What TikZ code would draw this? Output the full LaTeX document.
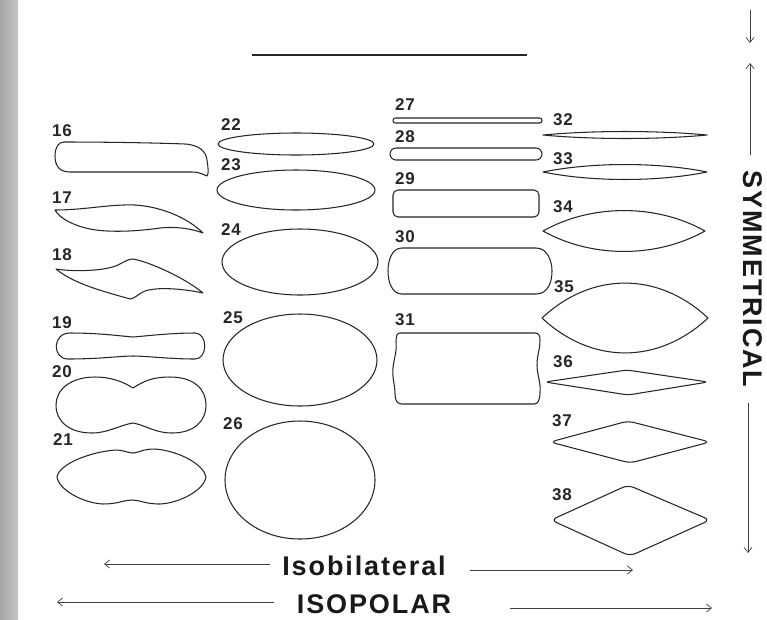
\documentclass[tikz,border=0pt]{standalone}
\usepackage{fontspec}
\usetikzlibrary{arrows.meta}
\newfontfamily\numfont{Liberation Sans}[LetterSpace=4]
\newfontfamily\capfont{Liberation Sans}[LetterSpace=7]

% pointed lens between x=#1 and x=#2, axis at y=#3, half height #4
\newcommand\lensat[4]{%
  \draw[outline] (#1,#3)
    .. controls ({#1+0.3*(#2-#1)},{#3-1.33*#4}) and ({#2-0.3*(#2-#1)},{#3-1.33*#4}) .. (#2,#3)
    .. controls ({#2-0.3*(#2-#1)},{#3+1.33*#4}) and ({#1+0.3*(#2-#1)},{#3+1.33*#4}) .. (#1,#3) -- cycle;}

\begin{document}
\begin{tikzpicture}[x=1pt,y=-1pt,
  outline/.style={draw=black!85, line width=1.05pt, line join=round},
  tag/.style={font=\numfont\bfseries\fontsize{17}{17}\selectfont, text=black!85, inner sep=0pt},
  bigtext/.style={font=\capfont\bfseries\fontsize{27}{27}\selectfont, text=black!90, inner sep=0pt},
  arr/.style={draw=black!75, line width=0.7pt, -{Straight Barb[length=5pt,width=8pt]}}]
\useasboundingbox (0,0) rectangle (767,619);
\fill[white] (0,0) rectangle (767,619);
\shade[left color=gray!70, right color=gray!45] (0,0) rectangle (18,619);

% heavy rule at the top
\coordinate (ruleA) at (252,55);
\coordinate (ruleB) at (527,55);
\draw[line width=2.2pt, black!85] (ruleA) -- (ruleB);

% ---------- column 1 : 16-21 ----------
\node[tag] (l16) at (62,131) {16};
\draw[outline] (64,142) .. controls (110,142) and (160,143) .. (185,144)
  .. controls (200,145) and (206,152) .. (207,160)
  .. controls (208,167) and (209,174) .. (207,176)
  .. controls (204,175) and (200,172) .. (192,172) -- (70,172)
  .. controls (58,172) and (55,164) .. (55,156)
  .. controls (55,148) and (58,142) .. (64,142) -- cycle;

\node[tag] (l17) at (62,198) {17};
\draw[outline] (55,210) .. controls (85,210) and (110,204) .. (135,205)
  .. controls (165,207) and (190,220) .. (203,233)
  .. controls (195,230) and (180,226) .. (160,228)
  .. controls (140,231) and (110,233) .. (90,229)
  .. controls (75,226) and (60,219) .. (55,210) -- cycle;

\node[tag] (l18) at (62,255) {18};
\draw[outline] (56,269) .. controls (75,272) and (105,271) .. (118,265)
  .. controls (124,262) and (128,259) .. (133,259)
  .. controls (150,262) and (185,278) .. (203,293)
  .. controls (190,290) and (160,286) .. (145,291)
  .. controls (138,294) and (134,299) .. (130,299)
  .. controls (110,293) and (75,285) .. (56,269) -- cycle;

\node[tag] (l19) at (62,323) {19};
\draw[outline] (70,333) .. controls (100,333) and (120,336) .. (133,337)
  .. controls (146,336) and (170,333) .. (195,333)
  .. controls (208,333) and (208,359) .. (195,359)
  .. controls (170,359) and (146,356) .. (133,356)
  .. controls (120,356) and (100,359) .. (68,359)
  .. controls (52,359) and (52,333) .. (70,333) -- cycle;

\node[tag] (l20) at (62,372) {20};
\draw[outline] (133,388) .. controls (145,380) and (155,377) .. (170,377)
  .. controls (195,377) and (206,390) .. (206,405)
  .. controls (206,422) and (193,433) .. (172,433)
  .. controls (155,433) and (145,425) .. (133,423)
  .. controls (120,425) and (108,433) .. (92,433)
  .. controls (70,433) and (56,422) .. (56,405)
  .. controls (56,390) and (70,377) .. (95,377)
  .. controls (110,377) and (122,381) .. (133,388) -- cycle;

\node[tag] (l21) at (63,440) {21};
\draw[outline] (57,477) .. controls (59,464) and (90,452) .. (115,450)
  .. controls (124,450) and (128,453) .. (133,453)
  .. controls (138,453) and (142,449) .. (155,449)
  .. controls (180,451) and (204,465) .. (206,477)
  .. controls (204,490) and (180,503) .. (160,504)
  .. controls (145,504) and (140,500) .. (132,500)
  .. controls (124,500) and (118,504) .. (103,504)
  .. controls (83,503) and (59,490) .. (57,477) -- cycle;

% ---------- column 2 : 22-26 ----------
\node[tag] (l22) at (231,125) {22};
\draw[outline] (296,144) ellipse [x radius=78, y radius=11];
\node[tag] (l23) at (231,165) {23};
\draw[outline] (296,190) ellipse [x radius=79, y radius=20];
\node[tag] (l24) at (231,230) {24};
\draw[outline] (300,262) ellipse [x radius=78, y radius=33];
\node[tag] (l25) at (233,318) {25};
\draw[outline] (300,360) ellipse [x radius=77, y radius=46];
\node[tag] (l26) at (233,424) {26};
\draw[outline] (300,480) ellipse [x radius=75, y radius=59];

% ---------- column 3 : 27-31 ----------
\node[tag] (l27) at (405,105) {27};
\draw[outline, rounded corners=2.4pt] (393,118) rectangle (542,123);
\node[tag] (l28) at (405,137) {28};
\draw[outline, rounded corners=6pt] (390,148) rectangle (542,160);
\node[tag] (l29) at (405,179) {29};
\draw[outline, rounded corners=5pt] (393,190) rectangle (539,217);
\node[tag] (l30) at (405,237) {30};
\draw[outline] (402,248) -- (536,248)
  .. controls (548,248) and (552,262) .. (552,271)
  .. controls (552,282) and (548,294) .. (536,294) -- (402,294)
  .. controls (392,294) and (388,282) .. (388,271)
  .. controls (388,260) and (392,248) .. (402,248) -- cycle;
\node[tag] (l31) at (405,320) {31};
\draw[outline] (400,333) -- (535,333)
  .. controls (539,333) and (540,336) .. (540,340)
  .. controls (540,350) and (537,355) .. (537,365)
  .. controls (537,375) and (541,382) .. (540,392)
  .. controls (540,400) and (538,404) .. (534,404) -- (402,404)
  .. controls (397,404) and (395,400) .. (395,394)
  .. controls (395,385) and (392,378) .. (393,368)
  .. controls (394,358) and (397,352) .. (396,342)
  .. controls (396,336) and (397,333) .. (400,333) -- cycle;

% ---------- column 4 : 32-38 ----------
\node[tag] (l32) at (563,120) {32};
\lensat{543}{707}{135}{3.5}
\node[tag] (l33) at (563,159) {33};
\lensat{543}{707}{172}{7.5}
\node[tag] (l34) at (563,207) {34};
\lensat{543}{705}{231}{20.5}
\node[tag] (l35) at (564,287) {35};
\lensat{542}{708}{318}{35}
\node[tag] (l36) at (563,362) {36};
\draw[outline, rounded corners=4pt] (545,382) -- (627,370) -- (708,382) -- (628,395) -- cycle;
\node[tag] (l37) at (562,421) {37};
\draw[outline, rounded corners=6pt] (550,442) -- (628,421) -- (710,442) -- (630,463) -- cycle;
\node[tag] (l38) at (562,495) {38};
\draw[outline, rounded corners=6pt] (551,520) -- (628,485) -- (710,520) -- (630,556) -- cycle;

% ---------- axis captions ----------
\node[bigtext] (isob) at (364,566) {Isobilateral};
\coordinate (isobLs) at (270,564);
\coordinate (isobLe) at (104,564);
\coordinate (isobRs) at (470,570);
\coordinate (isobRe) at (633,570);
\draw[arr] (isobLs) -- (isobLe);
\draw[arr] (isobRs) -- (isobRe);

\node[bigtext] (isop) at (374,604) {ISOPOLAR};
\coordinate (isopLs) at (274,602);
\coordinate (isopLe) at (57,602);
\coordinate (isopRs) at (510,608);
\coordinate (isopRe) at (712,608);
\draw[arr] (isopLs) -- (isopLe);
\draw[arr] (isopRs) -- (isopRe);

\node[bigtext, rotate=-90] (symm) at (753,279) {SYMMETRICAL};
\coordinate (sA) at (750,10);
\coordinate (sB) at (750,43);
\coordinate (sC) at (750,155);
\coordinate (sD) at (750,63);
\coordinate (sE) at (748,403);
\coordinate (sF) at (748,553);
\draw[arr] (sA) -- (sB);
\draw[arr] (sC) -- (sD);
\draw[arr] (sE) -- (sF);
\end{tikzpicture}
\end{document}
